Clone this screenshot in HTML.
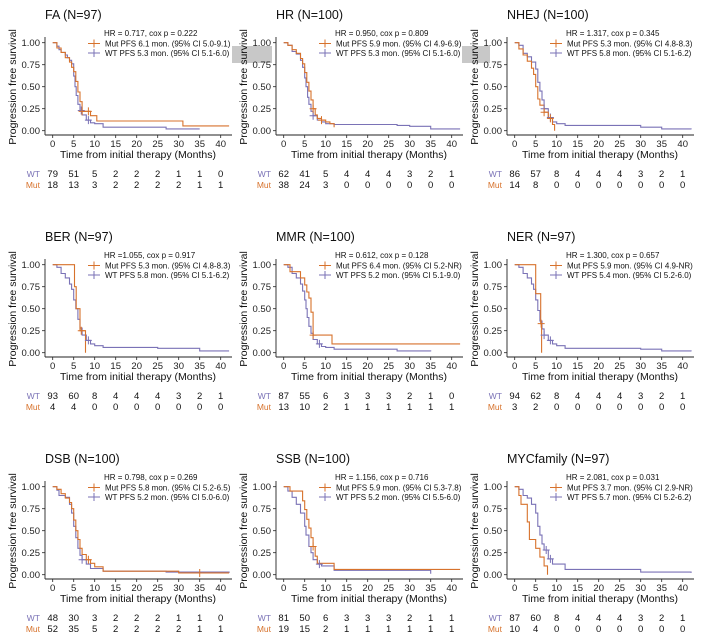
<!DOCTYPE html>
<html><head><meta charset="utf-8"><style>
html,body{margin:0;padding:0;background:#fff;}
svg{display:block;font-family:"Liberation Sans",Arial,sans-serif;}
</style></head><body>
<svg id="fig" width="705" height="637" viewBox="0 0 705 637" xmlns="http://www.w3.org/2000/svg">
<rect x="0" y="0" width="705" height="637" fill="#fff"/>
<rect x="232" y="46" width="40" height="17" fill="#c8c8c8"/>
<rect x="462" y="46" width="28" height="17" fill="#c8c8c8"/>
<g id="panels"></g>
</svg>
<script>
// ---- data ----
const titles = ["FA (N=97)","HR (N=100)","NHEJ (N=100)","BER (N=97)","MMR (N=100)","NER (N=97)","DSB (N=100)","SSB (N=100)","MYCfamily (N=97)"];
const hrTexts = ["HR = 0.717, cox p = 0.222","HR = 0.950, cox p = 0.809","HR = 1.317, cox p = 0.345","HR =1.055, cox p = 0.917","HR = 0.612, cox p = 0.128","HR = 1.300, cox p = 0.657","HR = 0.798, cox p = 0.269","HR = 1.156, cox p = 0.716","HR = 2.081, cox p = 0.031"];
const mutLegend = ["Mut PFS 6.1 mon. (95% CI 5.0-9.1)","Mut PFS 5.9 mon. (95% CI 4.9-6.9)","Mut PFS 5.3 mon. (95% CI 4.8-8.3)","Mut PFS 5.3 mon. (95% CI 4.8-8.3)","Mut PFS 6.4 mon. (95% CI 5.2-NR)","Mut PFS 5.9 mon. (95% CI 4.9-NR)","Mut PFS 5.8 mon. (95% CI 5.2-6.5)","Mut PFS 5.9 mon. (95% CI 5.3-7.8)","Mut PFS 3.7 mon. (95% CI 2.9-NR)"];
const wtLegend = ["WT PFS 5.3 mon. (95% CI 5.1-6.0)","WT PFS 5.3 mon. (95% CI 5.1-6.0)","WT PFS 5.8 mon. (95% CI 5.1-6.2)","WT PFS 5.8 mon. (95% CI 5.1-6.2)","WT PFS 5.2 mon. (95% CI 5.1-9.0)","WT PFS 5.4 mon. (95% CI 5.2-6.0)","WT PFS 5.2 mon. (95% CI 5.0-6.0)","WT PFS 5.2 mon. (95% CI 5.5-6.0)","WT PFS 5.7 mon. (95% CI 5.2-6.2)"];
const wtRisk = [[79,51,5,2,2,2,1,1,0],[62,41,5,4,4,4,3,2,1],[86,57,8,4,4,4,3,2,1],[93,60,8,4,4,4,3,2,1],[87,55,6,3,3,3,2,1,0],[94,62,8,4,4,4,3,2,1],[48,30,3,2,2,2,1,1,0],[81,50,6,3,3,3,2,1,1],[87,60,8,4,4,4,3,2,1]];
const mutRisk = [[18,13,3,2,2,2,2,1,1],[38,24,3,0,0,0,0,0,0],[14,8,0,0,0,0,0,0,0],[4,4,0,0,0,0,0,0,0],[13,10,2,1,1,1,1,1,1],[3,2,0,0,0,0,0,0,0],[52,35,5,2,2,2,2,1,1],[19,15,2,1,1,1,1,1,1],[10,4,0,0,0,0,0,0,0]];
const xTicks = [0,5,10,15,20,25,30,35,40];
const yTicks = [0,0.25,0.5,0.75,1];
const yTickLabels = ["0.00","0.25","0.50","0.75","1.00"];

const faMutT=[0,1,2,3,4,4.5,5,5.5,6,6.5,7,9,10.5,31,42];
const faMutS=[1,.94,.89,.83,.78,.72,.67,.56,.44,.33,.22,.17,.11,.055,.055];
const faWtT=[0,1,1.5,2,3,3.5,4,4.5,5,5.3,5.6,6,6.5,7,8,9,10,12,27,35];
const faWtS=[1,.96,.92,.89,.86,.83,.8,.76,.62,.5,.4,.3,.23,.18,.12,.09,.08,.04,.02,.02];
const hrMutT=[0,1,2,3,4,4.5,5,5.5,6,6.5,7,7.5,8,9,10,11,12];
const hrMutS=[1,.97,.92,.88,.82,.76,.66,.55,.45,.35,.25,.18,.14,.12,.1,.08,.04];
const hrWtT=[0,1,2,3,4,4.5,5,5.3,5.7,6,6.5,7,8,9,10,12,27,30,35,42];
const hrWtS=[1,.97,.9,.87,.8,.72,.6,.5,.38,.3,.22,.17,.12,.1,.08,.07,.06,.05,.02,.02];
const nhejMutT=[0,1,2,3,4,4.5,5,5.5,6,7,8,9,9.5];
const nhejMutS=[1,.93,.86,.79,.71,.64,.5,.36,.29,.21,.14,.07,0];
const nhejWtT=[0,1,2,3,4,5,5.5,6,6.5,7,8,9,10,12,30,35,42];
const nhejWtS=[1,.97,.88,.84,.78,.7,.55,.45,.35,.25,.15,.1,.08,.06,.04,.02,.015];
const berMutT=[0,5.2,5.6,6.5,7.8];
const berMutS=[1,.75,.5,.25,0];
const berWtT=[0,1,2,3,4,4.5,5,5.5,6,6.5,7,8,9,10,12,25,35,42];
const berWtS=[1,.97,.9,.85,.78,.72,.6,.5,.38,.28,.2,.14,.1,.08,.06,.05,.02,.02];
const mmrMutT=[0,1.5,4,5,5.5,6,6.5,7,11.5,42];
const mmrMutS=[1,.92,.85,.77,.69,.62,.46,.2,.1,.1];
const mmrWtT=[0,1,2,3,4,4.5,5,5.3,5.6,6,6.5,7,8,9,10,12,27,35];
const mmrWtS=[1,.97,.9,.85,.78,.7,.6,.5,.4,.3,.22,.15,.1,.07,.06,.04,.02,.015];
const nerMutT=[0,5,6.2,6.4];
const nerMutS=[1,.67,.33,0];
const nerWtT=[0,1,2,3,4,4.5,5,5.5,6,6.5,7,8,9,10,12,30,35,42];
const nerWtS=[1,.97,.9,.85,.78,.72,.6,.48,.36,.27,.2,.14,.1,.08,.05,.04,.02,.015];
const dsbMutT=[0,1,2,3,4,4.5,5,5.5,6,6.5,7,8,9,10,12,30,42];
const dsbMutS=[1,.97,.92,.87,.82,.75,.62,.5,.4,.3,.23,.17,.13,.09,.04,.02,.02];
const dsbWtT=[0,1,1.5,3,4,4.5,5,5.5,6,6.5,7,8,9,12,27,42];
const dsbWtS=[1,.96,.9,.88,.8,.7,.55,.42,.3,.22,.17,.12,.07,.04,.03,.02];
const ssbMutT=[0,1.5,4.5,5,5.5,6,6.5,7,7.5,8,12,42];
const ssbMutS=[1,.95,.84,.74,.63,.53,.42,.32,.21,.13,.06,.06];
const ssbWtT=[0,1,2,3,4,5,5.3,6,6.5,7,8,9,12,35];
const ssbWtS=[1,.95,.88,.8,.7,.55,.45,.32,.25,.17,.12,.1,.05,.01];
const mycMutT=[0,1,1.5,3,3.5,5,6,7,7.8];
const mycMutS=[1,.9,.8,.6,.4,.3,.2,.1,0];
const mycWtT=[0,1,2,3,4,5,5.5,6,6.5,7,8,9,12,30,42];
const mycWtS=[1,.97,.9,.87,.8,.7,.55,.45,.35,.28,.18,.12,.06,.03,.02];

const mutTimes=[faMutT,hrMutT,nhejMutT,berMutT,mmrMutT,nerMutT,dsbMutT,ssbMutT,mycMutT];
const mutSurv=[faMutS,hrMutS,nhejMutS,berMutS,mmrMutS,nerMutS,dsbMutS,ssbMutS,mycMutS];
const wtTimes=[faWtT,hrWtT,nhejWtT,berWtT,mmrWtT,nerWtT,dsbWtT,ssbWtT,mycWtT];
const wtSurv=[faWtS,hrWtS,nhejWtS,berWtS,mmrWtS,nerWtS,dsbWtS,ssbWtS,mycWtS];
const mutCensor=[[7,8.5],[7,9],[7,8.5],[6.8],[7],[6.3],[8.5,35],[7],[]];
const wtCensor=[[6.8,8.5],[7],[7,8.5],[8.5],[8.5],[7,8.5],[7],[8.5],[7.5,8.5]];

const MUT="#d7722c", WT="#7a72b6";
const NS="http://www.w3.org/2000/svg";
const root=document.getElementById('panels');
function mk(tag,attrs,parent,text){const e=document.createElementNS(NS,tag);for(const k in attrs)e.setAttribute(k,attrs[k]);if(text!==undefined)e.textContent=text;parent.appendChild(e);return e;}
const colOff=[0,231,462], rowOff=[0,222,444];
function xs(t){return 52.7+t*4.2;}
function ys(s){return 130.7-s*88;}
function stepPath(T,S){let d="M"+xs(T[0]).toFixed(1)+","+ys(S[0]).toFixed(1);for(let i=1;i<T.length;i++){d+=" H"+xs(T[i]).toFixed(1)+" V"+ys(S[i]).toFixed(1);}return d;}
function survAt(T,S,t){let v=S[0];for(let i=0;i<T.length;i++){if(T[i]<=t)v=S[i];}return v;}

for(let p=0;p<9;p++){
  const ox=colOff[p%3], oy=rowOff[Math.floor(p/3)];
  const g=mk('g',{transform:`translate(${ox},${oy})`},root);
  
  
  const t=mk('text',{x:45,y:19,'font-size':12.5,fill:'#111'},g,titles[p]);
  
  
  mk('line',{x1:45,y1:37,x2:45,y2:135,stroke:'#222','stroke-width':0.9},g);
  mk('line',{x1:45,y1:135,x2:232,y2:135,stroke:'#222','stroke-width':0.9},g);
  for(let i=0;i<yTicks.length;i++){
    const y=ys(yTicks[i]);
    mk('line',{x1:42,y1:y,x2:45,y2:y,stroke:'#222','stroke-width':0.8},g);
    const tl=mk('text',{x:40,y:y+3.3,'font-size':9.5,'text-anchor':'end',fill:'#222'},g,yTickLabels[i]);
    
    
  }
  for(let i=0;i<xTicks.length;i++){
    const x=xs(xTicks[i]);
    mk('line',{x1:x,y1:135,x2:x,y2:138,stroke:'#222','stroke-width':0.8},g);
    const tl=mk('text',{x:x,y:147,'font-size':9.5,'text-anchor':'middle',fill:'#222'},g,String(xTicks[i]));
    
    
    const w=mk('text',{x:x,y:177,'font-size':9.5,'text-anchor':'middle',fill:'#111'},g,String(wtRisk[p][i]));
    
    
    const m=mk('text',{x:x,y:188,'font-size':9.5,'text-anchor':'middle',fill:'#111'},g,String(mutRisk[p][i]));
    
    
  }
  const xt=mk('text',{x:138,y:158,'font-size':10.5,'text-anchor':'middle',fill:'#111'},g,'Time from initial therapy (Months)');
  
  
  const yt=mk('text',{x:0,y:0,'font-size':10.5,'text-anchor':'middle',fill:'#111',transform:'translate(16,87) rotate(-90)'},g,'Progression free survival');
  
  
  const rw=mk('text',{x:40,y:177,'font-size':8.5,'text-anchor':'end',fill:WT},g,'WT');
  
  
  const rm=mk('text',{x:40,y:188,'font-size':8.5,'text-anchor':'end',fill:MUT},g,'Mut');
  
  
  const cw=mk('path',{d:stepPath(wtTimes[p],wtSurv[p]),fill:'none',stroke:WT,'stroke-width':1.1},g);
  
  
  const cm=mk('path',{d:stepPath(mutTimes[p],mutSurv[p]),fill:'none',stroke:MUT,'stroke-width':1.1},g);
  
  
  function cross(t,T,S,col,name){
    const x=xs(t), y=ys(survAt(T,S,t));
    const c=mk('path',{d:`M${x-3.5},${y} H${x+3.5} M${x},${y-4} V${y+4}`,stroke:col,'stroke-width':1},g);
    
    
  }
  wtCensor[p].forEach(t=>cross(t,wtTimes[p],wtSurv[p],WT,'wt-censor-mark'));
  mutCensor[p].forEach(t=>cross(t,mutTimes[p],mutSurv[p],MUT,'mut-censor-mark'));
  const h=mk('text',{x:104,y:36,'font-size':8,fill:'#111'},g,hrTexts[p]);
  
  
  mk('path',{d:'M88,43.5 H100 M94,39.5 V47.5',stroke:MUT,'stroke-width':1},g);
  const lm=mk('text',{x:105,y:46.5,'font-size':8,fill:'#111'},g,mutLegend[p]);
  
  
  mk('path',{d:'M88,53 H100 M94,49 V57',stroke:WT,'stroke-width':1},g);
  const lw=mk('text',{x:105,y:56,'font-size':8,fill:'#111'},g,wtLegend[p]);
  
  
}
</script>
</body></html>
